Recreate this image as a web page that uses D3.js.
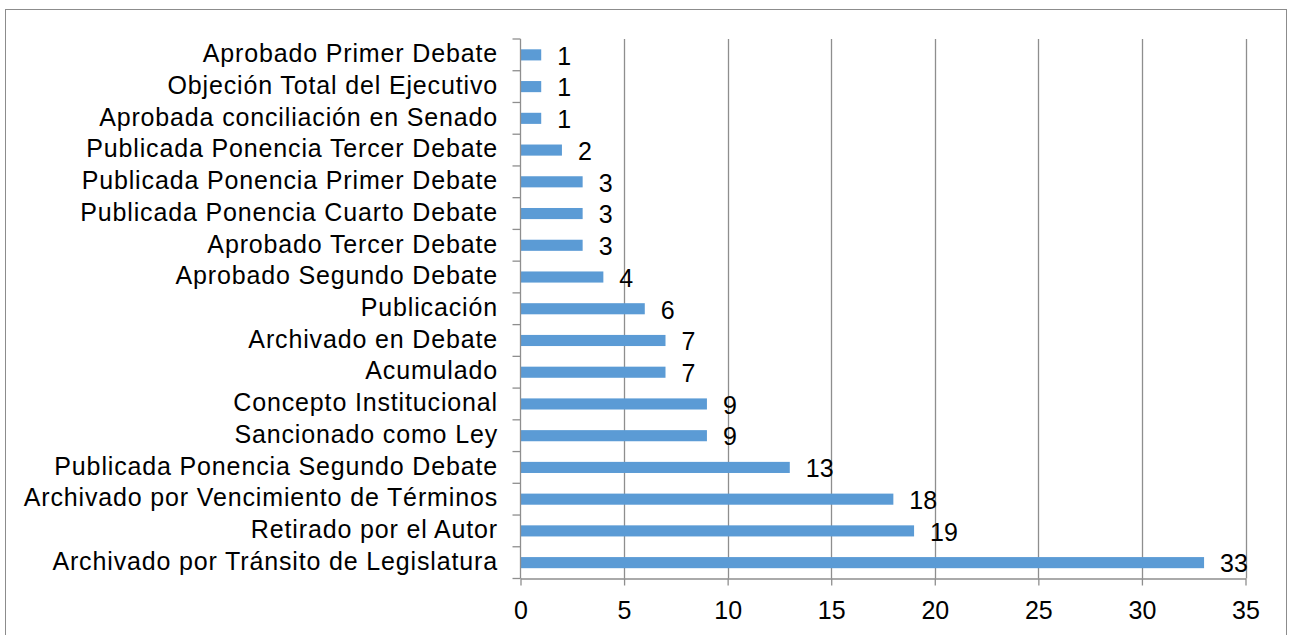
<!DOCTYPE html>
<html>
<head>
<meta charset="utf-8">
<script src="https://d3js.org/d3.v7.min.js"></script>
<style>
  html, body { margin: 0; padding: 0; background: #fff; }
  svg { display: block; font-family: "Liberation Sans", Arial, sans-serif; }
</style>
</head>
<body>
<div id="chart"></div>
<script>
(function () {
  "use strict";

  // Categories, top to bottom.
  var categories = [
    "Aprobado Primer Debate",
    "Objeción Total del Ejecutivo",
    "Aprobada conciliación en Senado",
    "Publicada Ponencia Tercer Debate",
    "Publicada Ponencia Primer Debate",
    "Publicada Ponencia Cuarto Debate",
    "Aprobado Tercer Debate",
    "Aprobado Segundo Debate",
    "Publicación",
    "Archivado en Debate",
    "Acumulado",
    "Concepto Institucional",
    "Sancionado como Ley",
    "Publicada Ponencia Segundo Debate",
    "Archivado por Vencimiento de Términos",
    "Retirado por el Autor",
    "Archivado por Tránsito de Legislatura"
  ];
  var counts = [1, 1, 1, 2, 3, 3, 3, 4, 6, 7, 7, 9, 9, 13, 18, 19, 33];
  var xTicks = [0, 5, 10, 15, 20, 25, 30, 35];

  var width = 1295, height = 635;
  var plot = { left: 520.5, right: 1245.5, top: 39, bottom: 578.5 };
  var fontSize = 25;
  var gridColor = "#8e8e8e";

  var svg = d3.select("#chart").append("svg")
    .attr("width", width)
    .attr("height", height);

  // Outer frame.
  svg.append("rect")
    .attr("x", 5.5).attr("y", 9.5)
    .attr("width", 1281).attr("height", 640)
    .attr("fill", "none")
    .attr("stroke", "#8c8c8c")
    .attr("stroke-width", 1);

  var x = d3.scaleLinear().domain([0, 35]).range([plot.left, plot.right]);
  var y = d3.scaleBand().domain(categories).range([plot.top, plot.bottom]).paddingInner(0.65).paddingOuter(0.325);
  var yBand = d3.scaleBand().domain(categories).range([plot.top, plot.bottom]);

  // Vertical gridlines.
  svg.append("g").selectAll("line")
    .data(xTicks.filter(function (t) { return t > 0; }))
    .enter().append("line")
    .attr("x1", function (d) { return Math.round(x(d)) + 0.5; })
    .attr("x2", function (d) { return Math.round(x(d)) + 0.5; })
    .attr("y1", plot.top)
    .attr("y2", plot.bottom)
    .attr("stroke", gridColor)
    .attr("stroke-width", 1.3);

  // Bars.
  svg.append("g").selectAll("rect")
    .data(categories)
    .enter().append("rect")
    .attr("x", x(0))
    .attr("y", function (d) { return y(d); })
    .attr("width", function (d, i) { return x(counts[i]) - x(0); })
    .attr("height", y.bandwidth())
    .attr("fill", "#5b9bd5");

  // Bottom axis.
  var xAxis = d3.axisBottom(x).tickValues(xTicks).tickSize(7).tickPadding(16).tickSizeOuter(0);
  var gx = svg.append("g")
    .attr("transform", "translate(0," + plot.bottom + ")")
    .call(xAxis);
  gx.select(".domain").attr("stroke", gridColor).attr("stroke-width", 1.3);
  gx.selectAll(".tick line").attr("stroke", gridColor).attr("stroke-width", 1.3);
  gx.selectAll(".tick text")
    .attr("font-size", fontSize)
    .attr("font-family", "Liberation Sans, Arial, sans-serif")
    .attr("fill", "#000");

  // Left axis: ticks at band boundaries.
  var boundaries = d3.range(categories.length + 1).map(function (i) {
    return plot.top + i * yBand.step();
  });
  svg.append("g").selectAll("line")
    .data(boundaries)
    .enter().append("line")
    .attr("x1", plot.left - 8).attr("x2", plot.left)
    .attr("y1", function (d) { return d; })
    .attr("y2", function (d) { return d; })
    .attr("stroke", gridColor)
    .attr("stroke-width", 1.3);
  svg.append("line")
    .attr("x1", plot.left).attr("x2", plot.left)
    .attr("y1", plot.top).attr("y2", plot.bottom)
    .attr("stroke", gridColor)
    .attr("stroke-width", 1.3);

  // Category labels (slightly widened to match the original rendering).
  svg.append("g").selectAll("text")
    .data(categories)
    .enter().append("text")
    .attr("x", plot.left - 22.5)
    .attr("y", function (d) { return yBand(d) + yBand.bandwidth() / 2 - 1.5; })
    .attr("dy", "0.35em")
    .attr("text-anchor", "end")
    .attr("font-size", fontSize)
    .attr("letter-spacing", "0.85px")
    .attr("fill", "#000")
    .text(function (d) { return d; });

  // Value labels.
  svg.append("g").selectAll("text")
    .data(categories)
    .enter().append("text")
    .attr("x", function (d, i) { return x(counts[i]) + 16; })
    .attr("y", function (d) { return yBand(d) + yBand.bandwidth() / 2 + 1; })
    .attr("dy", "0.35em")
    .attr("font-size", fontSize)
    .attr("fill", "#000")
    .text(function (d, i) { return counts[i]; });
})();
</script>
</body>
</html>
